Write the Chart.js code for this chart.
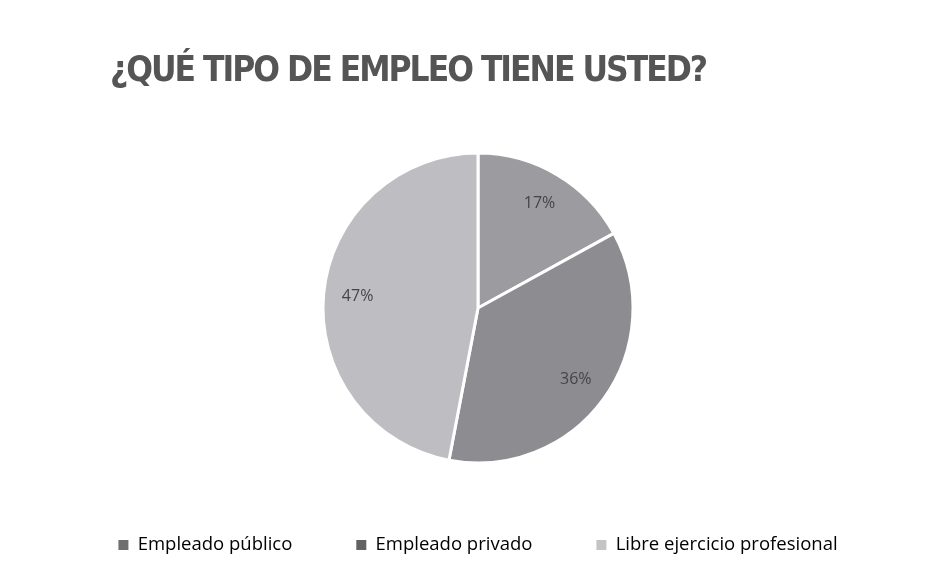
<!DOCTYPE html>
<html>
<head>
<meta charset="utf-8">
<script src="https://cdn.jsdelivr.net/npm/chart.js@4"></script>
<style>
  html, body { margin: 0; padding: 0; background: #ffffff; }
  #wrap { width: 938px; height: 575px; position: relative; }
</style>
</head>
<body>
<div id="wrap"><canvas id="c" width="938" height="575"></canvas></div>
<script>
const titleText = "¿QUÉ TIPO DE EMPLEO TIENE USTED?";
const categories = ["Empleado público", "Empleado privado", "Libre ejercicio profesional"];
const percentages = [17, 36, 47];
const sliceColors = ["#9c9ca0", "#8d8d91", "#bebec2"];
const legendColors = ["#6f6f6f", "#626262", "#c4c4c4"];

const pctLabels = {
  id: "pctLabels",
  afterDatasetsDraw(chart) {
    const ctx = chart.ctx;
    const meta = chart.getDatasetMeta(0);
    ctx.save();
    ctx.font = "16px 'Open Sans'";
    ctx.fillStyle = "#454545";
    ctx.textAlign = "center";
    ctx.textBaseline = "middle";
    meta.data.forEach((arc, i) => {
      const p = arc.getProps(["x", "y", "startAngle", "endAngle", "outerRadius"], true);
      const mid = (p.startAngle + p.endAngle) / 2;
      const r = p.outerRadius * 0.78;
      ctx.fillText(percentages[i] + "%", p.x + Math.cos(mid) * r, p.y + Math.sin(mid) * r);
    });
    ctx.restore();
  }
};

// shift the title to the left margin and tighten its letter spacing
const titleTweak = {
  id: "titleTweak",
  beforeDraw(chart) {
    const tb = chart.titleBlock;
    if (tb && !tb._tweaked) {
      const orig = tb.draw;
      tb.draw = function () {
        const ctx = chart.ctx;
        ctx.save();
        ctx.translate(75, 0);
        try { ctx.letterSpacing = "-2px"; } catch (e) {}
        orig.apply(this, arguments);
        ctx.restore();
      };
      tb._tweaked = true;
    }
  }
};

new Chart(document.getElementById("c"), {
  type: "pie",
  data: {
    labels: categories,
    datasets: [{
      data: percentages,
      backgroundColor: sliceColors,
      borderColor: "#ffffff",
      borderWidth: 3,
      radius: 155
    }]
  },
  options: {
    responsive: false,
    animation: false,
    layout: { padding: { left: 35, right: 17, top: 20, bottom: 10.75 } },
    plugins: {
      tooltip: { enabled: false },
      title: {
        display: true,
        text: titleText,
        align: "start",
        color: "#555555",
        font: { family: "'DejaVu Sans Condensed', 'DejaVu Sans', sans-serif", size: 35, weight: "bold" },
        padding: { top: 31, bottom: 51.25 }
      },
      legend: {
        position: "bottom",
        labels: {
          boxWidth: 10,
          boxHeight: 10,
          padding: 64,
          color: "#5f5f5f",
          font: { family: "'Open Sans'", size: 18.5 },
          generateLabels(chart) {
            return categories.map((c, i) => ({
              text: c,
              fillStyle: legendColors[i],
              strokeStyle: legendColors[i],
              lineWidth: 0,
              hidden: false,
              index: i
            }));
          }
        }
      }
    }
  },
  plugins: [pctLabels, titleTweak]
});
</script>
</body>
</html>
